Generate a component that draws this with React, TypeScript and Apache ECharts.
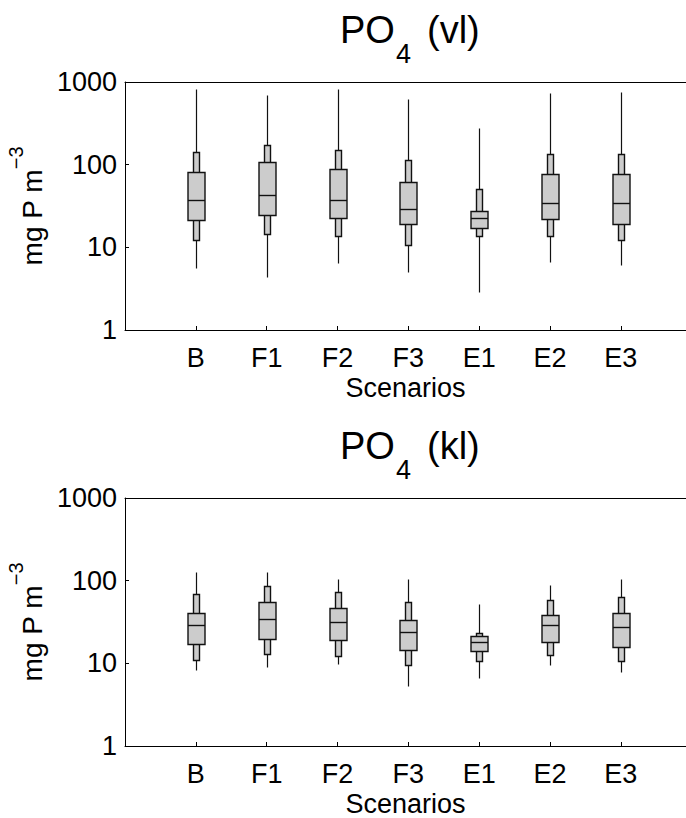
import React, { useEffect, useRef } from 'react';
import * as echarts from 'echarts';

const categories = ['B', 'F1', 'F2', 'F3', 'E1', 'E2', 'E3'];
const yTickValues = [1, 10, 100, 1000];

// PO4 (vl): min, 10th pct, 25th pct, median, 75th pct, 90th pct, max
const vlMin = [5.7, 4.4, 6.5, 5.1, 2.9, 6.6, 6.1];
const vlP10 = [12.4, 14.6, 13.8, 10.8, 13.8, 13.7, 12.1];
const vlQ1 = [21.2, 24.4, 22.9, 19.0, 17.3, 22.2, 19.0];
const vlMed = [37.4, 43.0, 37.4, 29.1, 22.4, 34.4, 34.4];
const vlQ3 = [80.7, 107, 88.7, 61.8, 27.3, 77.2, 77.2];
const vlP90 = [142, 173, 151, 115, 50.3, 135, 135];
const vlMax = [823, 702, 830, 623, 280, 728, 763];

// PO4 (kl)
const klMin = [8.4, 9.0, 9.8, 5.3, 6.7, 9.6, 7.9];
const klP10 = [11.1, 13.0, 12.4, 9.6, 10.7, 12.5, 10.6];
const klQ1 = [17.3, 19.7, 19.3, 14.5, 14.0, 18.3, 15.8];
const klMed = [29.1, 34.0, 31.3, 23.7, 18.3, 28.8, 27.2];
const klQ3 = [40.6, 54.5, 46.7, 33.7, 21.2, 38.4, 40.6];
const klP90 = [68.9, 86.0, 73.4, 55.2, 23.3, 58.3, 64.0];
const klMax = [126, 127, 105, 105, 52.2, 88.5, 105];

const FONT = '"Liberation Sans", Arial, Helvetica, sans-serif';
const XMAX = 7.92;
const GRID_TOPS = [82, 498];
const GRID_H = 248;

function buildData(mn: number[], p10: number[], q1: number[], md: number[], q3: number[], p90: number[], mx: number[]) {
  return categories.map((_, i) => [i + 1, mn[i], p10[i], q1[i], md[i], q3[i], p90[i], mx[i]]);
}

const renderBox = (params: any, api: any) => {
  const x = api.value(0) as number;
  const v = [1, 2, 3, 4, 5, 6, 7].map((k) => api.value(k) as number);
  const c = api.coord([x, v[3]]);
  const cx = Math.round(c[0]) + 0.5;
  const yy = (val: number) => Math.round(api.coord([x, val])[1]) + 0.5;
  const wideW = Math.round(api.coord([x + 0.12, v[3]])[0] - api.coord([x - 0.12, v[3]])[0]);
  const narW = Math.round(api.coord([x + 0.04, v[3]])[0] - api.coord([x - 0.04, v[3]])[0]);
  const yMin = yy(v[0]), yP10 = yy(v[1]), yQ1 = yy(v[2]), yMed = yy(v[3]), yQ3 = yy(v[4]), yP90 = yy(v[5]), yMax = yy(v[6]);
  const boxStroke = { stroke: '#111', lineWidth: 1.4 };
  return {
    type: 'group',
    children: [
      { type: 'line', shape: { x1: cx, y1: yMax, x2: cx, y2: yMin }, style: { stroke: '#111', lineWidth: 1.2 } },
      {
        type: 'rect',
        shape: { x: cx - narW / 2, y: yP90, width: narW, height: yP10 - yP90 },
        style: { fill: '#cccccc', ...boxStroke },
      },
      {
        type: 'rect',
        shape: { x: cx - wideW / 2, y: yQ3, width: wideW, height: yQ1 - yQ3 },
        style: { fill: '#cccccc', ...boxStroke },
      },
      { type: 'line', shape: { x1: cx - wideW / 2, y1: yMed, x2: cx + wideW / 2, y2: yMed }, style: { ...boxStroke } },
    ],
  };
};

const App: React.FC = () => {
  const ref = useRef<HTMLDivElement>(null);

  useEffect(() => {
    if (!ref.current) return;
    const chart = echarts.init(ref.current, undefined, { renderer: 'svg' });

    const grid = GRID_TOPS.map((t) => ({
      left: 125,
      right: 0,
      top: t,
      height: GRID_H,
      containLabel: false,
      outerBoundsMode: 'none',
    }));

    const xAxis: any[] = [];
    const yAxis: any[] = [];
    [0, 1].forEach((gi) => {
      xAxis.push({
        type: 'value',
        gridIndex: gi,
        position: 'bottom',
        min: 0,
        max: XMAX,
        interval: 1,
        name: 'Scenarios',
        nameLocation: 'middle',
        nameGap: 44,
        nameTextStyle: { fontSize: 27, fontFamily: FONT, color: '#000' },
        axisLine: { show: true, onZero: false, lineStyle: { color: '#000', width: 1 } },
        axisTick: {
          show: true,
          inside: true,
          length: 4,
          customValues: categories.map((_, i) => i + 1),
          lineStyle: { color: '#000', width: 1 },
        },
        axisLabel: {
          show: true,
          customValues: categories.map((_, i) => i + 1),
          formatter: (val: number) => categories[Math.round(val) - 1] ?? '',
          fontSize: 27,
          fontFamily: FONT,
          color: '#000',
          margin: 14,
        },
        splitLine: { show: false },
      });
      xAxis.push({
        type: 'value',
        gridIndex: gi,
        position: 'top',
        min: 0,
        max: XMAX,
        axisLine: { show: true, onZero: false, lineStyle: { color: '#000', width: 1 } },
        axisTick: { show: false },
        axisLabel: { show: false },
        splitLine: { show: false },
      });
      yAxis.push({
        type: 'log',
        logBase: 10,
        gridIndex: gi,
        min: 1,
        max: 1000,
        name: '{a|mg P m}{s|−3}',
        nameLocation: 'middle',
        nameRotate: 90,
        nameGap: 71,
        nameTextStyle: {
          rich: {
            a: { fontSize: 28, fontFamily: FONT, color: '#000', lineHeight: 40, verticalAlign: 'bottom' },
            s: { fontSize: 20, fontFamily: FONT, color: '#000', lineHeight: 20, verticalAlign: 'top' },
          },
        },
        axisLine: { show: true, onZero: false, lineStyle: { color: '#000', width: 1 } },
        axisTick: {
          show: true,
          inside: true,
          length: 4,
          customValues: yTickValues,
          lineStyle: { color: '#000', width: 1 },
        },
        axisLabel: {
          show: true,
          customValues: yTickValues,
          formatter: (val: number) => String(Math.round(val)),
          fontSize: 27,
          fontFamily: FONT,
          color: '#000',
          margin: 8,
        },
        minorTick: { show: false },
        splitLine: { show: false },
      });
    });

    const titleEls = (gridTop: number, tag: string) => {
      const base = gridTop + 0.3;
      const mainBaseline = base - 39;
      const subBaseline = base - 19.3;
      const mk = (text: string, x: number, baseline: number, size: number) => ({
        type: 'text',
        x,
        y: baseline - 0.3465 * size,
        silent: true,
        style: {
          text,
          fill: '#000',
          fontSize: size,
          fontFamily: FONT,
          textAlign: 'left',
          align: 'left',
          textVerticalAlign: 'middle',
          verticalAlign: 'middle',
        },
      });
      return [mk('PO', 340, mainBaseline, 38), mk('4', 396, subBaseline, 27), mk(tag, 427, mainBaseline, 38)];
    };

    const option: any = {
      animation: false,
      backgroundColor: '#ffffff',
      grid,
      xAxis,
      yAxis,
      graphic: [...titleEls(GRID_TOPS[0], '(vl)'), ...titleEls(GRID_TOPS[1], '(kl)')],
      series: [
        {
          type: 'custom',
          xAxisIndex: 0,
          yAxisIndex: 0,
          renderItem: renderBox,
          encode: { x: 0, y: [1, 2, 3, 4, 5, 6, 7] },
          data: buildData(vlMin, vlP10, vlQ1, vlMed, vlQ3, vlP90, vlMax),
          clip: false,
        },
        {
          type: 'custom',
          xAxisIndex: 2,
          yAxisIndex: 1,
          renderItem: renderBox,
          encode: { x: 0, y: [1, 2, 3, 4, 5, 6, 7] },
          data: buildData(klMin, klP10, klQ1, klMed, klQ3, klP90, klMax),
          clip: false,
        },
      ],
    };

    chart.setOption(option);
    return () => {
      chart.dispose();
    };
  }, []);

  return (
    <div
      ref={ref}
      style={{ position: 'fixed', left: 0, top: 0, width: 686, height: 818, background: '#fff' }}
    />
  );
};

export default App;
